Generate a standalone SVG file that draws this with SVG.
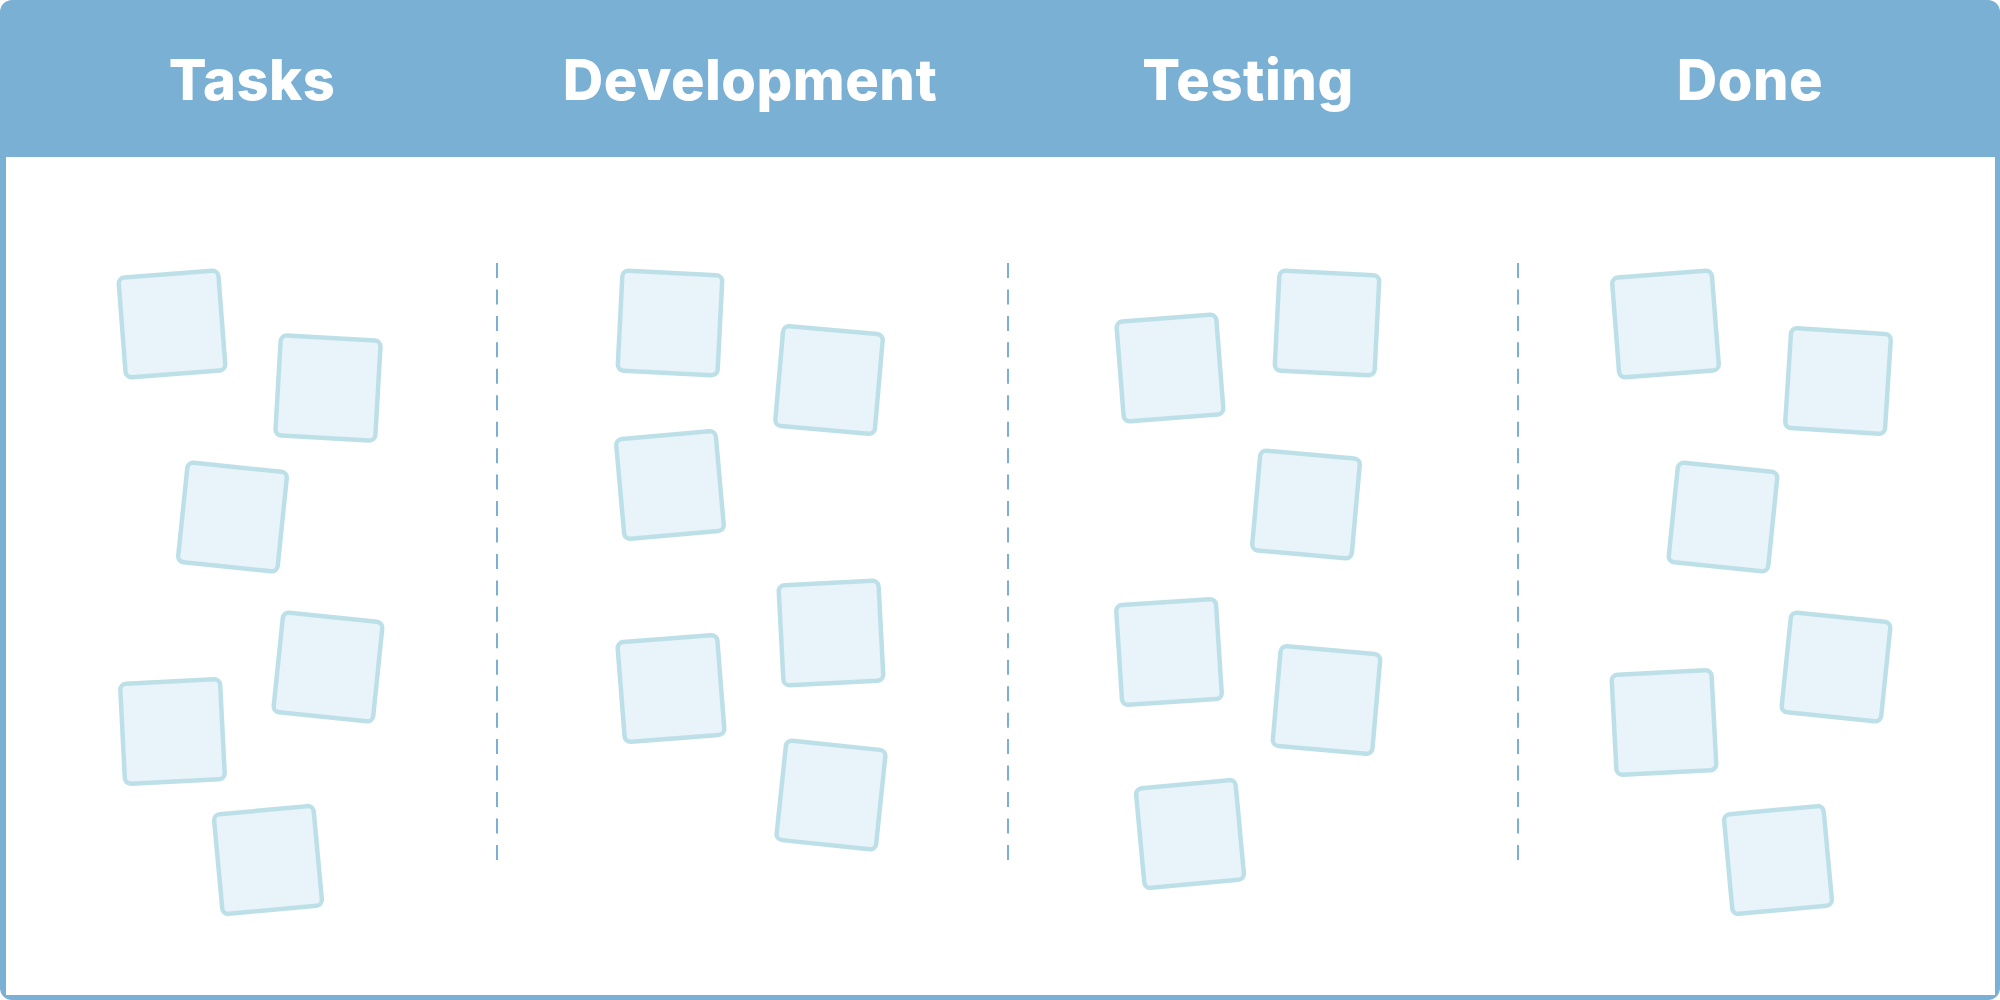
<svg xmlns="http://www.w3.org/2000/svg" width="2000" height="1000" viewBox="0 0 2000 1000">
  <style>
    .frame { fill: #7bb0d5; }
    .board { fill: #ffffff; }
    .title { font-family: Inter, "Liberation Sans", sans-serif; font-weight: 800; font-size: 56px; fill: #ffffff; text-anchor: middle; letter-spacing: 0.5px; }
    .divider { stroke: #7bb0d5; stroke-width: 2; stroke-dasharray: 15 11.45; fill: none; }
    .card { fill: #e8f4f9; stroke: #bde0e8; stroke-width: 4.5; }
  </style>
  <defs>
    <rect id="note" x="-50" y="-50" width="100" height="100" rx="6"/>
  </defs>

  <!-- board frame and header band -->
  <rect class="frame" x="0" y="0" width="2000" height="1000" rx="12"/>
  <rect class="board" x="6" y="157" width="1989" height="838"/>

  <!-- column titles -->
  <g id="headers">
    <text class="title" x="252" y="100">Tasks</text>
    <text class="title" x="750" y="100">Development</text>
    <text class="title" x="1248" y="100">Testing</text>
    <text class="title" x="1750" y="100">Done</text>
  </g>

  <!-- dashed column separators -->
  <g id="connectors">
    <line class="divider" x1="497" y1="263" x2="497" y2="860"/>
    <line class="divider" x1="1008" y1="263" x2="1008" y2="860"/>
    <line class="divider" x1="1518" y1="263" x2="1518" y2="860"/>
  </g>

  <!-- Tasks column -->
  <g id="tasks-1" class="card"><use href="#note" transform="translate(172,324) rotate(-4.4)"/></g>
  <g id="tasks-2" class="card"><use href="#note" transform="translate(328,388) rotate(3.3)"/></g>
  <g id="tasks-3" class="card"><use href="#note" transform="translate(232.5,517) rotate(5.9)"/></g>
  <g id="tasks-4" class="card"><use href="#note" transform="translate(328,667) rotate(5.9)"/></g>
  <g id="tasks-5" class="card"><use href="#note" transform="translate(172.5,731.5) rotate(-2.9)"/></g>
  <g id="tasks-6" class="card"><use href="#note" transform="translate(268,860) rotate(-5.3)"/></g>

  <!-- Development column -->
  <g id="dev-1" class="card"><use href="#note" transform="translate(670,323) rotate(2.9)"/></g>
  <g id="dev-2" class="card"><use href="#note" transform="translate(829,380) rotate(5)"/></g>
  <g id="dev-3" class="card"><use href="#note" transform="translate(670,485) rotate(-5.1)"/></g>
  <g id="dev-4" class="card"><use href="#note" transform="translate(831,633) rotate(-3)"/></g>
  <g id="dev-5" class="card"><use href="#note" transform="translate(671,688.5) rotate(-4.5)"/></g>
  <g id="dev-6" class="card"><use href="#note" transform="translate(831,795) rotate(6)"/></g>

  <!-- Testing column -->
  <g id="test-1" class="card"><use href="#note" transform="translate(1327,323) rotate(2.9)"/></g>
  <g id="test-2" class="card"><use href="#note" transform="translate(1170,368) rotate(-4.5)"/></g>
  <g id="test-3" class="card"><use href="#note" transform="translate(1306,504.5) rotate(5.1)"/></g>
  <g id="test-4" class="card"><use href="#note" transform="translate(1169,652) rotate(-3.7)"/></g>
  <g id="test-5" class="card"><use href="#note" transform="translate(1326.5,700) rotate(5)"/></g>
  <g id="test-6" class="card"><use href="#note" transform="translate(1190,834) rotate(-5.3)"/></g>

  <!-- Done column -->
  <g id="done-1" class="card"><use href="#note" transform="translate(1665.5,324) rotate(-4.4)"/></g>
  <g id="done-2" class="card"><use href="#note" transform="translate(1838,381) rotate(3.7)"/></g>
  <g id="done-3" class="card"><use href="#note" transform="translate(1723,517) rotate(5.8)"/></g>
  <g id="done-4" class="card"><use href="#note" transform="translate(1836,667) rotate(5.9)"/></g>
  <g id="done-5" class="card"><use href="#note" transform="translate(1664,722.5) rotate(-3)"/></g>
  <g id="done-6" class="card"><use href="#note" transform="translate(1778,860) rotate(-5.3)"/></g>
</svg>
